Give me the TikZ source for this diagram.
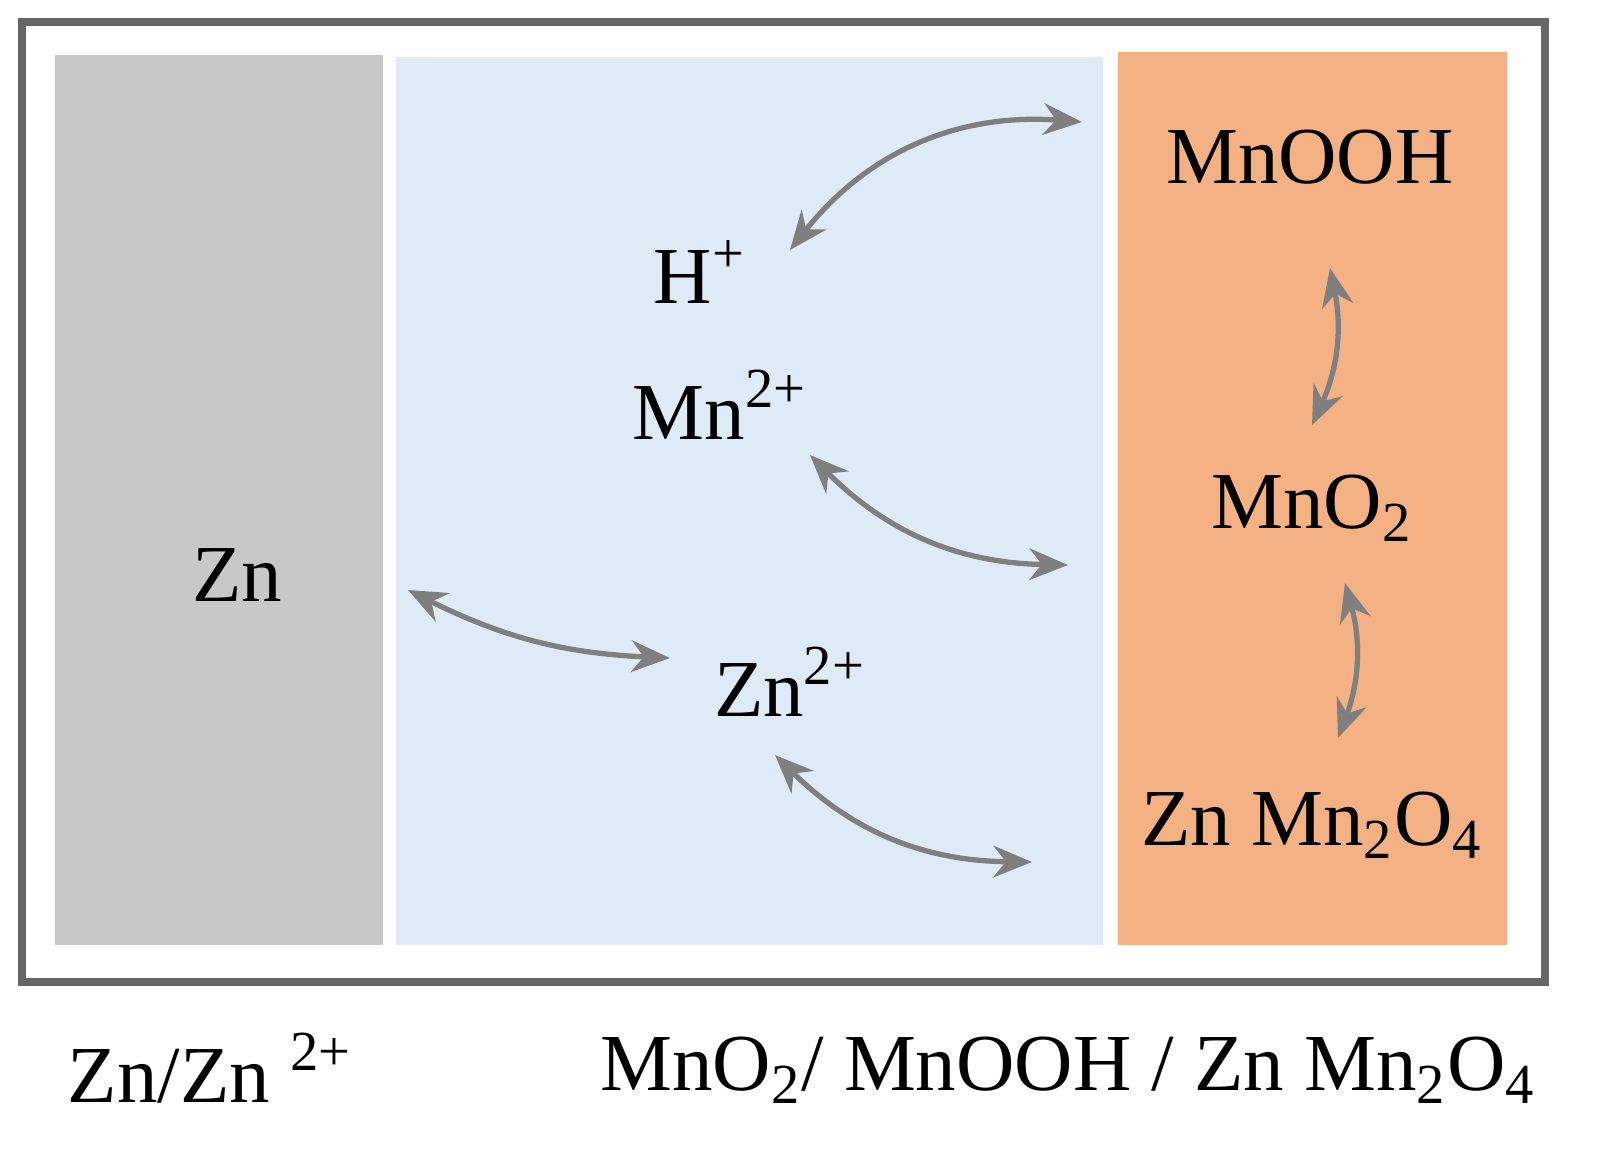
\documentclass[tikz,border=0pt]{standalone}
\usepackage{fontspec}
\setmainfont{Liberation Serif}
\usetikzlibrary{arrows.meta}
\definecolor{zngray}{HTML}{C8C8C8}
\definecolor{elblue}{HTML}{DEEAF6}
\definecolor{catorange}{HTML}{F4B183}
\definecolor{arrgray}{HTML}{7F7F7F}
\tikzset{
  lbl/.style={font=\fontsize{23}{28}\selectfont},
  ion/.style={arrgray, line width=1.5pt, {Stealth[length=11pt,width=9pt]}-{Stealth[length=11pt,width=9pt]}}
}
\newcommand{\up}[1]{\textsuperscript{#1}}
\newcommand{\dn}[1]{\textsubscript{#1}}
\begin{document}
\begin{tikzpicture}[x=0.01cm,y=-0.01cm]

  \useasboundingbox (0,0) rectangle (1599,1154);

  % frame and regions
  \draw[line width=2.5pt, color=gray!80!black] (22,22) rectangle (1545,982);
  \fill[zngray] (55,55) rectangle (383,945);
  \fill[elblue] (396,57) rectangle (1103,945);
  \fill[catorange] (1118,52) rectangle (1507,945);

  % labels
  \node[lbl] (zn) at (237,575) {Zn};
  \node[lbl] (hp) at (700,272) {H\up{+}};
  \node[lbl] (mn) at (720,405) {Mn\up{2+}};
  \node[lbl] (znion) at (790,682) {Zn\up{2+}};
  \node[lbl] (mnooh) at (1310,157) {MnOOH};
  \node[lbl] (mno) at (1312,508) {MnO\dn{2}};
  \node[lbl] (znmno) at (1312,825) {Zn Mn\dn{2}O\dn{4}};
  \node[lbl] (anode) at (210,1068) {Zn/Zn \up{2+}};
  \node[lbl] (cathode) at (1068,1070) {MnO\dn{2}/ MnOOH / Zn Mn\dn{2}O\dn{4}};

  % arrow ends
  \coordinate (a1) at (790,250);  \coordinate (b1) at (1082,122);
  \coordinate (a2) at (1330,268); \coordinate (b2) at (1312,425);
  \coordinate (a3) at (810,455);  \coordinate (b3) at (1068,565);
  \coordinate (a4) at (408,590);  \coordinate (b4) at (670,658);
  \coordinate (a5) at (1345,583); \coordinate (b5) at (1338,738);
  \coordinate (a6) at (775,755);  \coordinate (b6) at (1032,862);

  \draw[ion] (a1) to[bend left=28] (b1);
  \draw[ion] (a2) to[bend left=18] (b2);
  \draw[ion] (a3) to[bend right=22] (b3);
  \draw[ion] (a4) to[bend right=12] (b4);
  \draw[ion] (a5) to[bend left=18] (b5);
  \draw[ion] (a6) to[bend right=22] (b6);

\end{tikzpicture}
\end{document}
